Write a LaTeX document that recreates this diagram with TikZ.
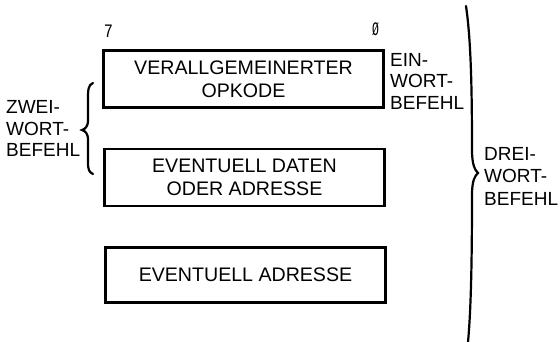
\documentclass[tikz,border=0pt]{standalone}
\usepackage{fontspec}
\setmainfont{Liberation Sans}
\newfontfamily\monofont{Liberation Mono}
\begin{document}
\begin{tikzpicture}[x=1pt,y=-1pt,
  wordbox/.style={draw, line width=2.4pt, minimum width=280pt, minimum height=57pt, inner sep=0pt, align=center,
    font=\fontsize{19.6}{23}\selectfont},
  lbl/.style={anchor=west, inner sep=0pt, align=left, font=\fontsize{19}{21.5}\selectfont},
  bitnum/.style={inner sep=0pt, font=\monofont\fontsize{19}{19}\selectfont},
  brace/.style={line width=2.2pt, line cap=round}]
\useasboundingbox (0,0) rectangle (560,342);
\node[wordbox] (b1) at (243.5,79) {VERALLGEMEINERTER\\OPKODE};
\node[wordbox] (b2) at (244.5,177.5) {EVENTUELL DATEN\\ODER ADRESSE};
\node[wordbox, minimum height=55pt] (b3) at (245.5,275) {EVENTUELL ADRESSE};
\node[bitnum] (n7) at (108.5,31) {\scalebox{0.8}[1]{7}};
\node[bitnum] (n0) at (375.5,29) {\scalebox{0.6}[1]{Ø}};
\node[lbl] (ein) at (390,81) {EIN-\\WORT-\\BEFEHL};
\node[lbl] (zwei) at (6,128.5) {ZWEI-\\WORT-\\BEFEHL};
\node[lbl, font=\fontsize{19}{22.5}\selectfont] (drei) at (484,176) {DREI-\\WORT-\\BEFEHL};
% left brace
\draw[brace] (93,83) .. controls (88,85) and (88,90) .. (88,100)
  -- (88,120) .. controls (88,127) and (85,129) .. (82,130)
  .. controls (85,131) and (88,133) .. (88,140)
  -- (88,162) .. controls (88,170) and (89,172) .. (93,174);
% right brace
\draw[brace] (466,6) .. controls (471,40) and (472,90) .. (472,150)
  .. controls (472,165) and (475,170) .. (478,173)
  .. controls (475,176) and (472,180) .. (472,195)
  .. controls (472,260) and (471,310) .. (468,342);
\end{tikzpicture}
\end{document}
